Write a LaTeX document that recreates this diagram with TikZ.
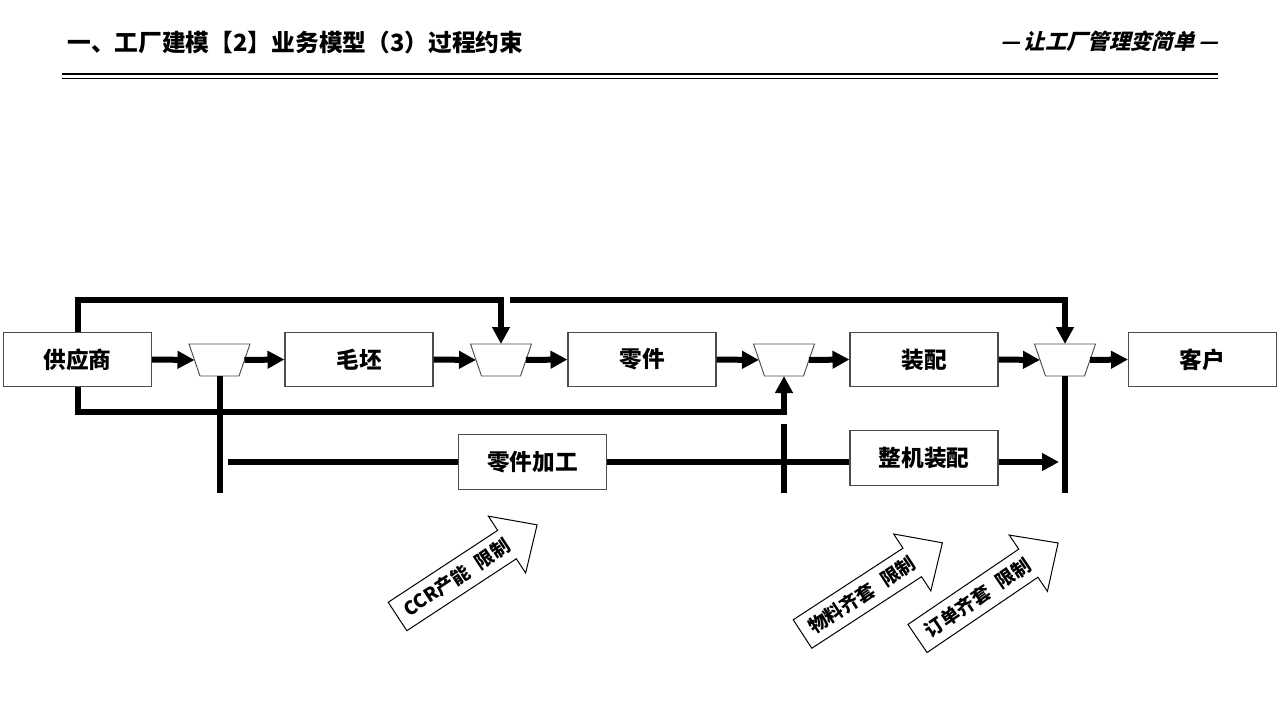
\documentclass[tikz,border=0pt]{standalone}
\usepackage{fontspec}
\setmainfont{Noto Sans CJK SC}
\newfontfamily\slcjk[FakeSlant=0.25]{Noto Sans CJK SC}
\usetikzlibrary{arrows.meta}
\newcommand\mygate[3]{%
  \coordinate (#1) at (#2,#3);
  \draw[gatestyle] ([shift={(-30.5,-16)}]#1) -- ([shift={(30.5,-16)}]#1) -- ([shift={(19.5,16)}]#1) -- ([shift={(-19.5,16)}]#1) -- cycle;
  \coordinate (#1w) at ([shift={(-25,0)}]#1);
  \coordinate (#1e) at ([shift={(25,0)}]#1);
  \coordinate (#1n) at ([shift={(0,-16)}]#1);
  \coordinate (#1s) at ([shift={(0,16)}]#1);
}
\begin{document}
\begin{tikzpicture}[x=0.75pt,y=-0.75pt,
  box/.style={draw=black!70,line width=0.8pt,fill=white,minimum width=111pt,minimum height=41pt,inner sep=0pt,font=\fontsize{17pt}{20pt}\selectfont\bfseries},
  gatestyle/.style={draw=black!70,line width=0.7pt,fill=white,line join=miter},
  flow/.style={line width=4.5pt},
  flowarr/.style={line width=4.5pt,-{Triangle[length=12.75pt,width=12.75pt]}},
  blockarr/.style={draw=black,line width=0.75pt,fill=white,line join=miter},
  arrtext/.style={font=\fontsize{14pt}{16pt}\selectfont\bfseries,inner sep=0pt}
]
\useasboundingbox (0,0) rectangle (1280,720);
% header
\node[anchor=west,inner sep=0pt,font=\fontsize{17.8pt}{20pt}\selectfont\bfseries] (title) at (67,42) {一、工厂建模【2】业务模型（3）过程约束};
\node[anchor=east,inner sep=0pt,font=\fontsize{16pt}{18pt}\selectfont\bfseries\slcjk] (slogan) at (1218,41) {—\,让工厂管理变简单\,—};
\coordinate (hl1a) at (62,74.3); \coordinate (hl1b) at (1218,74.3);
\coordinate (hl2a) at (62,78.3); \coordinate (hl2b) at (1218,78.3);
\draw[line width=1.7pt] (hl1a) -- (hl1b);
\draw[line width=1pt] (hl2a) -- (hl2b);

% main row
\node[box] (sup) at (77.5,359.5) {供应商};
\node[box] (mp) at (359,359.5) {毛坯};
\node[box] (lj) at (642,359.5) {零件};
\node[box] (zp) at (924,359.5) {装配};
\node[box] (kh) at (1202.5,359.5) {客户};
\mygate{t1}{219.5}{360}
\mygate{t2}{501}{360}
\mygate{t3}{784}{360}
\mygate{t4}{1065}{360}

% lower boxes
\node[box] (ljjg) at (532.5,462) {零件加工};
\node[box] (zjzp) at (924,458) {整机装配};

% coordinates
\coordinate (ytop) at (0,300);
\coordinate (ybot) at (0,412);
\coordinate (top2) at (510,300);
\coordinate (v1end) at (219.5,493);
\coordinate (hstart) at (228,462);
\coordinate (hend) at (1059,462);
\coordinate (v3a) at (784,424);
\coordinate (v3b) at (784,493);
\coordinate (v4end) at (1065,493);

% horizontal flow arrows
\draw[flowarr] (sup.east) -- (t1w);
\draw[flowarr] (t1e) -- (mp.west);
\draw[flowarr] (mp.east) -- (t2w);
\draw[flowarr] (t2e) -- (lj.west);
\draw[flowarr] (lj.east) -- (t3w);
\draw[flowarr] (t3e) -- (zp.west);
\draw[flowarr] (zp.east) -- (t4w);
\draw[flowarr] (t4e) -- (kh.west);

% top and bottom bypass lines
\draw[flowarr] (sup.north) -- (sup.north |- ytop) -| (t2n);
\draw[flowarr] (top2) -| (t4n);
\draw[flowarr] (sup.south) -- (sup.south |- ybot) -| (t3s);

% verticals and lower line
\draw[flow] (t1s) -- (v1end);
\draw[flow] (v3a) -- (v3b);
\draw[flow] (t4s) -- (v4end);
\draw[flow] (hstart) -- (ljjg.west);
\draw[flow] (ljjg.east) -- (ljjg.east -| zjzp.west);
\draw[flowarr] (zjzp.east |- hstart) -- (hend);

% block arrows
\begin{scope}[shift={(397.5,616.5)},rotate=33.3]
  \draw[blockarr] (0,-17) -- (131,-17) -- (131,-34) -- (167,0) -- (131,34) -- (131,17) -- (0,17) -- cycle;
  \node[arrtext,rotate=33.3] (a1) at (71,0) {CCR产能\hspace{0.6em}限制};
\end{scope}
\begin{scope}[shift={(802.5,634)},rotate=33.1]
  \draw[blockarr] (0,-17) -- (131,-17) -- (131,-34) -- (167,0) -- (131,34) -- (131,17) -- (0,17) -- cycle;
  \node[arrtext,rotate=33.1] (a2) at (71,0) {物料齐套\hspace{0.6em}限制};
\end{scope}
\begin{scope}[shift={(917.5,638.5)},rotate=34.2]
  \draw[blockarr] (0,-17) -- (134,-17) -- (134,-34) -- (170,0) -- (134,34) -- (134,17) -- (0,17) -- cycle;
  \node[arrtext,rotate=34.2] (a3) at (73,0) {订单齐套\hspace{0.6em}限制};
\end{scope}
\end{tikzpicture}
\end{document}
